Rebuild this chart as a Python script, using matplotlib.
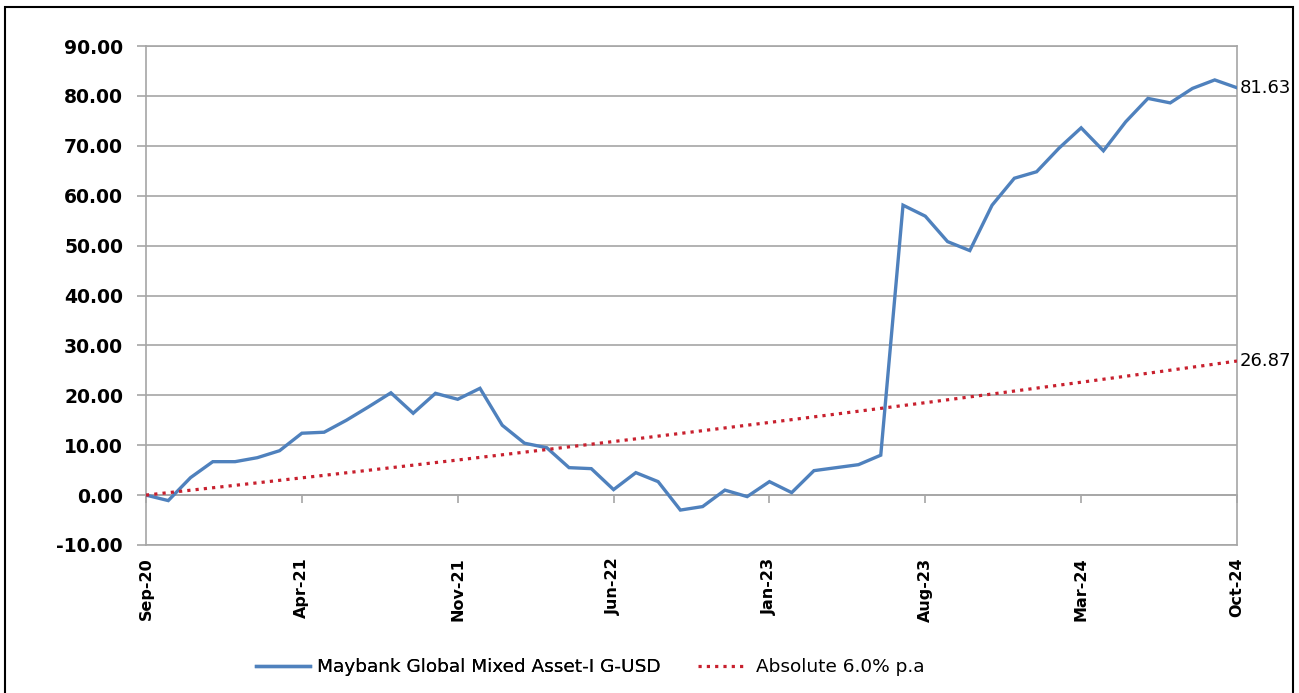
import matplotlib
matplotlib.use("Agg")
import matplotlib.pyplot as plt
from matplotlib.patches import Rectangle

months = ["Sep-20", "Oct-20", "Nov-20", "Dec-20", "Jan-21", "Feb-21", "Mar-21", "Apr-21",
          "May-21", "Jun-21", "Jul-21", "Aug-21", "Sep-21", "Oct-21", "Nov-21", "Dec-21",
          "Jan-22", "Feb-22", "Mar-22", "Apr-22", "May-22", "Jun-22", "Jul-22", "Aug-22",
          "Sep-22", "Oct-22", "Nov-22", "Dec-22", "Jan-23", "Feb-23", "Mar-23", "Apr-23",
          "May-23", "Jun-23", "Jul-23", "Aug-23", "Sep-23", "Oct-23", "Nov-23", "Dec-23",
          "Jan-24", "Feb-24", "Mar-24", "Apr-24", "May-24", "Jun-24", "Jul-24", "Aug-24",
          "Sep-24", "Oct-24"]

fund = [0.00, -1.10, 3.50, 6.70, 6.70, 7.50, 8.90, 12.40, 12.60, 15.00,
        17.70, 20.50, 16.40, 20.40, 19.20, 21.40, 14.00, 10.40, 9.50, 5.50,
        5.30, 1.10, 4.50, 2.70, -3.00, -2.30, 1.00, -0.30, 2.70, 0.50,
        4.90, 5.50, 6.10, 8.00, 58.10, 55.90, 50.80, 49.00, 58.10, 63.50,
        64.80, 69.50, 73.60, 69.00, 74.80, 79.50, 78.60, 81.50, 83.20, 81.63]

benchmark = [0.00, 0.49, 0.98, 1.47, 1.96, 2.46, 2.96, 3.46, 3.96, 4.47,
             4.98, 5.49, 6.00, 6.52, 7.03, 7.56, 8.08, 8.61, 9.13, 9.67,
             10.20, 10.74, 11.27, 11.82, 12.36, 12.91, 13.46, 14.01, 14.56, 15.12,
             15.68, 16.24, 16.81, 17.38, 17.95, 18.52, 19.10, 19.68, 20.26, 20.85,
             21.44, 22.03, 22.62, 23.22, 23.82, 24.42, 25.03, 25.64, 26.25, 26.87]

tick_labels = ["Sep-20", "Apr-21", "Nov-21", "Jun-22", "Jan-23", "Aug-23", "Mar-24", "Oct-24"]
y_ticks = [-10, 0, 10, 20, 30, 40, 50, 60, 70, 80, 90]

series_names = ["Maybank Global Mixed Asset-I G-USD", "Absolute 6.0% p.a"]

fig = plt.figure(figsize=(12.99, 6.93), dpi=100)
ax = fig.add_axes([146 / 1299, 1 - 545 / 693, (1237 - 146) / 1299, (545 - 46) / 693])

x = list(range(len(months)))
blue = "#4F81BD"
red = "#C8202E"
grid_c = "#A6A6A6"

l1, = ax.plot(x, fund, color=blue, lw=2.4, solid_joinstyle="miter", zorder=3)
l2, = ax.plot(x, benchmark, color=red, lw=2.3, linestyle=(0, (1, 1.6)), zorder=3)

ax.set_xlim(0, len(months) - 1)
ax.set_ylim(-10, 90)
ax.set_yticks(y_ticks)
ax.set_yticklabels([f"{v:.2f}" for v in y_ticks], fontsize=13.5, fontweight="bold")
ax.yaxis.grid(True, color=grid_c, lw=1.2)
ax.set_axisbelow(True)

tick_pos = [months.index(t) for t in tick_labels]
ax.set_xticks(tick_pos)
ax.set_xticklabels(tick_labels, rotation=90, fontsize=11.5, fontweight="bold")
ax.tick_params(axis="x", length=0, pad=9)
ax.tick_params(axis="y", length=6.5, color=grid_c, width=1.2, pad=10)

for s in ax.spines.values():
    s.set_color(grid_c)
    s.set_linewidth(1.2)

sec = ax.secondary_xaxis(0.1)
sec.set_xticks(tick_pos)
sec.set_xticklabels([""] * len(tick_pos))
sec.tick_params(axis="x", direction="out", length=6, color=grid_c, width=1.2)
sec.spines["bottom"].set_color(grid_c)
sec.spines["bottom"].set_linewidth(1.2)

for series in (fund, benchmark):
    ax.annotate(f"{series[-1]:.2f}", xy=(x[-1], series[-1]), xytext=(2, 0),
                textcoords="offset points", ha="left", va="center",
                fontsize=13, family=["Liberation Sans Narrow", "DejaVu Sans"],
                annotation_clip=False)

leg1 = fig.legend([l1], [series_names[0]], loc="center left",
                  bbox_to_anchor=(256 / 1299, 1 - 667 / 693), frameon=False,
                  fontsize=13.3, handlelength=2.9, handletextpad=0.4,
                  borderpad=0, borderaxespad=0)
leg2 = fig.legend([l2], [series_names[1]], loc="center left",
                  bbox_to_anchor=(698 / 1299, 1 - 667 / 693), frameon=False,
                  fontsize=13.3, handlelength=2.6, handletextpad=0.55,
                  borderpad=0, borderaxespad=0)
fig.add_artist(leg1)

border = Rectangle((5 / 1299, -0.02), (1293 - 5) / 1299, 1.02 - 7 / 693,
                   transform=fig.transFigure, fill=False, edgecolor="black",
                   lw=1.5, clip_on=False)
fig.add_artist(border)

fig.savefig("out.png", dpi=100)
